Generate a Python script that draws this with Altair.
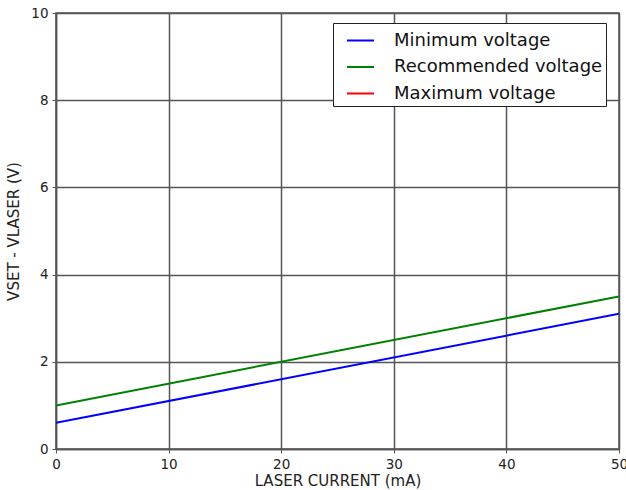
import altair as alt
import pandas as pd

current = [0, 50]
min_voltage = [0.6, 3.1]
rec_voltage = [1.0, 3.5]
series_names = ["Minimum voltage", "Recommended voltage", "Maximum voltage"]
series_colors = ["#0000ff", "#008000", "#ff0000"]

rows = []
for x, v in zip(current, min_voltage):
    rows.append({"x": x, "y": v, "s": series_names[0]})
for x, v in zip(current, rec_voltage):
    rows.append({"x": x, "y": v, "s": series_names[1]})
df = pd.DataFrame(rows)

grid_col = "#555555"
font = "DejaVu Sans"

chart = alt.Chart(df).mark_line(strokeWidth=2, clip=True).encode(
    x=alt.X("x:Q", scale=alt.Scale(domain=[0, 50], nice=False),
            axis=alt.Axis(title="LASER CURRENT (mA)", values=[0, 10, 20, 30, 40, 50],
                          format="d")),
    y=alt.Y("y:Q", scale=alt.Scale(domain=[0, 10], nice=False),
            axis=alt.Axis(title="VSET - VLASER (V)", values=[0, 2, 4, 6, 8, 10],
                          format="d")),
    color=alt.Color("s:N", scale=alt.Scale(domain=series_names, range=series_colors),
                    legend=alt.Legend(title=None, orient="none", legendX=277, legendY=10,
                                      symbolType="stroke", symbolSize=729,
                                      symbolStrokeWidth=2, symbolOffset=10,
                                      labelFontSize=18,
                                      labelFont=font, labelColor="#111",
                                      strokeColor="#222", fillColor="white",
                                      padding=3, rowPadding=2.5, labelOffset=19,
                                      cornerRadius=0, labelLimit=300)),
    detail="s:N",
).properties(
    width=563, height=436,
    autosize=alt.AutoSizeParams(type="none"),
    padding={"left": 56, "top": 13, "right": 7, "bottom": 41},
).configure_view(
    stroke=grid_col, strokeWidth=1.5
).configure_axis(
    grid=True, gridColor=grid_col, gridWidth=1.5, gridOpacity=1,
    domainColor=grid_col, domainWidth=1.5, tickColor=grid_col, tickSize=4,
    labelFont=font, labelFontSize=13.5, labelColor="#222", labelFlush=False,
    titleFont=font, titleFontSize=15, titleFontWeight="normal", titleColor="#222",
).configure_axisX(labelPadding=4, titlePadding=3).configure_axisY(labelPadding=4, titlePadding=9)

chart.save("out.html", embed_options={"renderer": "svg", "actions": False})
